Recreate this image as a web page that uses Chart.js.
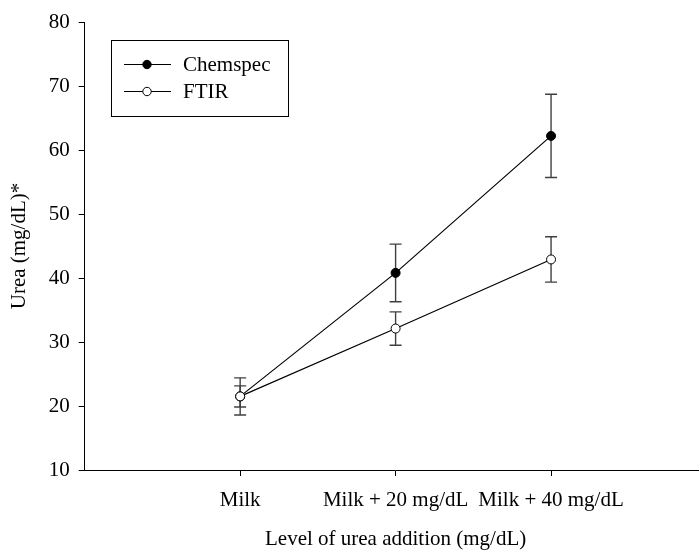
<!DOCTYPE html>
<html><head><meta charset="utf-8">
<script src="https://cdn.jsdelivr.net/npm/chart.js@4"></script>
<style>
html,body{margin:0;padding:0;background:#fff;overflow:hidden;width:699px;height:550px}
#wrap{width:712px;height:550px;position:relative}
</style>
</head><body><div id="wrap"><canvas id="c" width="712" height="550"></canvas></div>
<script>
const categories = ['Milk', 'Milk + 20 mg/dL', 'Milk + 40 mg/dL'];
const seriesNames = ['Chemspec', 'FTIR'];
const chemspec = [21.5, 40.8, 62.2];
const chemspecErr = [2.9, 4.5, 6.5];
const ftir = [21.5, 32.1, 42.9];
const ftirErr = [1.65, 2.6, 3.55];
const yTicks = [10, 20, 30, 40, 50, 60, 70, 80];

const FONT = {family: '"Liberation Serif", "Times New Roman", serif', size: 21};

const errorBars = {
  id: 'errorBars',
  beforeDatasetsDraw(chart) {
    const {ctx, scales: {x, y}} = chart;
    ctx.save();
    ctx.strokeStyle = '#404040';
    ctx.lineWidth = 1.4;
    [[chemspec, chemspecErr], [ftir, ftirErr]].forEach(([vals, errs]) => {
      vals.forEach((v, i) => {
        const px = x.getPixelForValue(i + 1);
        const top = y.getPixelForValue(v + errs[i]);
        const bot = y.getPixelForValue(v - errs[i]);
        ctx.beginPath();
        ctx.moveTo(px, top); ctx.lineTo(px, bot);
        ctx.moveTo(px - 6, top); ctx.lineTo(px + 6, top);
        ctx.moveTo(px - 6, bot); ctx.lineTo(px + 6, bot);
        ctx.stroke();
      });
    });
    ctx.restore();
  }
};

const boxLegend = {
  id: 'boxLegend',
  afterDraw(chart) {
    const {ctx} = chart;
    ctx.save();
    ctx.strokeStyle = '#000';
    ctx.lineWidth = 1;
    ctx.strokeRect(111.5, 40.5, 177, 76);
    const rows = [64.5, 91.5];
    chart.data.datasets.forEach((ds, i) => {
      const yy = rows[i];
      ctx.beginPath();
      ctx.moveTo(124, yy); ctx.lineTo(171, yy);
      ctx.lineWidth = 1.2; ctx.strokeStyle = '#000';
      ctx.stroke();
      ctx.beginPath();
      ctx.arc(147, yy, 4.2, 0, Math.PI * 2);
      ctx.fillStyle = ds.pointBackgroundColor;
      ctx.fill();
      ctx.lineWidth = 1;
      ctx.stroke();
      ctx.fillStyle = '#000';
      ctx.font = FONT.size + 'px ' + FONT.family;
      ctx.textBaseline = 'middle';
      ctx.textAlign = 'left';
      ctx.fillText(ds.label, 183, yy + 0.5);
    });
    ctx.restore();
  }
};

function pts(vals) { return vals.map((v, i) => ({x: i + 1, y: v})); }

new Chart(document.getElementById('c'), {
  type: 'line',
  data: {
    datasets: [
      {label: seriesNames[0], data: pts(chemspec), borderColor: '#000', borderWidth: 1.2, order: 1,
       pointRadius: 4.5, pointBackgroundColor: '#000', pointBorderColor: '#000', pointBorderWidth: 1, tension: 0},
      {label: seriesNames[1], data: pts(ftir), borderColor: '#000', borderWidth: 1.2, order: 0,
       pointRadius: 4.5, pointBackgroundColor: '#fff', pointBorderColor: '#000', pointBorderWidth: 1, tension: 0}
    ]
  },
  options: {
    responsive: false,
    animation: false,
    devicePixelRatio: 1,
    layout: {padding: {top: 22, right: 4, left: 0, bottom: 0}},
    plugins: {legend: {display: false}, tooltip: {enabled: false}},
    scales: {
      x: {
        type: 'linear', min: 0, max: 4,
        afterBuildTicks: s => { s.ticks = [1, 2, 3].map(v => ({value: v})); },
        ticks: {callback: v => categories[v - 1], font: FONT, color: '#000', padding: 12, maxRotation: 0, autoSkip: false},
        grid: {drawOnChartArea: false, drawTicks: true, tickLength: 6, color: '#000'},
        border: {color: '#000', width: 1},
        title: {display: true, text: 'Level of urea addition (mg/dL)', color: '#000',
                font: Object.assign({}, FONT, {lineHeight: 1}), padding: {top: 0, bottom: 0}},
        afterFit: s => { s.height = 80; }
      },
      y: {
        min: 10, max: 80,
        afterBuildTicks: s => { s.ticks = yTicks.map(v => ({value: v})); },
        ticks: {font: FONT, color: '#000', padding: 9},
        grid: {drawOnChartArea: false, drawTicks: true, tickLength: 6, color: '#000'},
        border: {color: '#000', width: 1},
        title: {display: true, text: 'Urea (mg/dL)*', color: '#000',
                font: Object.assign({}, FONT, {lineHeight: 1}), padding: {top: 9, bottom: 0}},
        afterFit: s => { s.width = 84.7; }
      }
    }
  },
  plugins: [errorBars, boxLegend]
});
</script>
</body></html>
